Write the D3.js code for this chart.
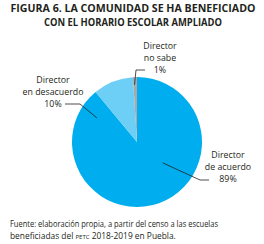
<!DOCTYPE html>
<html>
<head>
<meta charset="utf-8">
<script src="https://cdn.jsdelivr.net/npm/d3@7"></script>
<style>
  body { margin: 0; background: #fff; }
  text { font-family: "Open Sans", "Noto Sans", sans-serif; fill: #231f20; }
</style>
</head>
<body>
<div id="main"></div>
<script>
// datos de la figura
const categorias = ['Director de acuerdo', 'Director en desacuerdo', 'Director no sabe'];
const valores = [89, 10, 1];
const etiquetas = [['Director', 'de acuerdo', '89%'], ['Director', 'en desacuerdo', '10%'], ['Director', 'no sabe', '1%']];
const colores = ['#00aeef', '#6dcff6', '#a7a9ac'];

const width = 264, height = 244;
const cx = 137, cy = 142, radio = 65;

// donde va cada etiqueta y de donde sale su linea (angulo en grados, fraccion del radio)
const layout = [
  { x: 228, y: 155, ancla: [129, 0.51], codo: [200, 180], fin: [209, 180] },
  { x: 53, y: 80, ancla: [301, 0.72], codo: [80, 104], fin: [65, 104] },
  { x: 160, y: 46, ancla: [357.5, 0.88], codo: [136, 70], fin: [145, 70] }
];

const svg = d3.select('#main').append('svg')
  .attr('width', width)
  .attr('height', height);

// titulo
const titulo = ['FIGURA 6. LA COMUNIDAD SE HA BENEFICIADO', 'CON EL HORARIO ESCOLAR AMPLIADO'];
const anchoTitulo = [245, 178];
svg.selectAll('text.titulo')
  .data(titulo)
  .enter()
  .append('text')
  .attr('class', 'titulo')
  .attr('x', 133)
  .attr('y', (d, i) => 12 + i * 13.5)
  .attr('text-anchor', 'middle')
  .attr('textLength', (d, i) => anchoTitulo[i])
  .attr('lengthAdjust', 'spacingAndGlyphs')
  .style('font-size', '10px')
  .style('font-weight', 'bold')
  .text(d => d);

const pie = d3.pie().sort(null).value(d => d);
const arc = d3.arc().innerRadius(0).outerRadius(radio);

const g = svg.append('g').attr('transform', `translate(${cx},${cy})`);
g.selectAll('path')
  .data(pie(valores))
  .enter()
  .append('path')
  .attr('d', arc)
  .attr('fill', (d, i) => colores[i]);

// lineas guia
layout.forEach((l, i) => {
  const p = d3.pointRadial(l.ancla[0] * Math.PI / 180, l.ancla[1] * radio);
  const puntos = [[cx + p[0], cy + p[1]], l.codo, l.fin];
  svg.append('path')
    .attr('d', d3.line()(puntos))
    .attr('fill', 'none')
    .attr('stroke', '#231f20')
    .attr('stroke-width', 0.8);

  const t = svg.append('text')
    .attr('x', l.x)
    .attr('y', l.y + 3)
    .attr('text-anchor', 'middle')
    .style('font-size', '8.8px');
  etiquetas[i].forEach((linea, j) => {
    t.append('tspan')
      .attr('x', l.x)
      .attr('dy', j === 0 ? 0 : 12)
      .text(linea);
  });
});

// fuente
const fuente = svg.append('text')
  .attr('x', 10)
  .attr('y', 227)
  .style('font-size', '8.4px')
  .style('font-weight', 500);
fuente.append('tspan')
  .attr('textLength', 208)
  .attr('lengthAdjust', 'spacingAndGlyphs')
  .text('Fuente: elaboración propia, a partir del censo a las escuelas');
fuente.append('tspan')
  .attr('x', 10)
  .attr('dy', 11.5)
  .text('beneficiadas del ');
fuente.append('tspan')
  .style('font-size', '6px')
  .text('PETC');
fuente.append('tspan')
  .text(' 2018-2019 en Puebla.');
</script>
</body>
</html>
